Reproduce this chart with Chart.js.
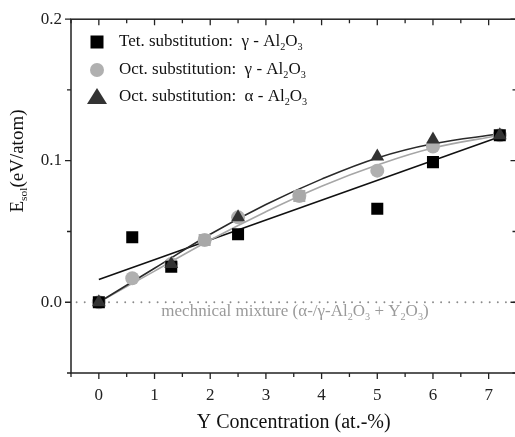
<!DOCTYPE html>
<html>
<head>
<meta charset="utf-8">
<script src="https://cdn.jsdelivr.net/npm/chart.js@4.4.0/dist/chart.umd.min.js"></script>
<style>
  html, body { margin: 0; padding: 0; background: #fff; overflow: hidden; }
  canvas { display: block; }
</style>
</head>
<body>
<canvas id="chart" width="525" height="437" style="width:525px;height:437px"></canvas>
<script>
// Y concentration (at.-%) and solution energy (eV/atom)
const xTet = [0, 0.6, 1.3, 1.9, 2.5, 3.6, 5, 6, 7.2];
const yTet = [0, 0.046, 0.025, 0.044, 0.048, 0.075, 0.066, 0.099, 0.118];
const xOctGamma = [0, 0.6, 1.3, 1.9, 2.5, 3.6, 5, 6, 7.2];
const yOctGamma = [0, 0.017, 0.027, 0.044, 0.060, 0.075, 0.093, 0.110, 0.118];
const xOctAlpha = [0, 1.3, 2.5, 5, 6, 7.2];
const yOctAlpha = [0, 0.027, 0.060, 0.103, 0.115, 0.118];

// fitted curves
const xFitTet = [0, 7.2];
const yFitTet = [0.016, 0.117];
const xFit = [0, 1, 2, 3, 4, 5, 6, 7.2];
const yFitGamma = [0, 0.022, 0.044, 0.064, 0.082, 0.097, 0.109, 0.118];
const yFitAlpha = [0, 0.024, 0.048, 0.069, 0.087, 0.102, 0.112, 0.119];

const xTicks = [0, 1, 2, 3, 4, 5, 6, 7];
const yTicks = [0, 0.1, 0.2];
const xRange = [-0.5, 7.5];
const yRange = [-0.05, 0.2];

const SERIF = "'Liberation Serif', 'Times New Roman', serif";

function pts(xs, ys) {
  return xs.map((x, i) => ({ x: x, y: ys[i] }));
}

// text with subscripts: parts = [[text, isSub], ...]
function richWidth(ctx, parts, size) {
  let w = 0;
  parts.forEach(p => {
    ctx.font = (p[1] ? size * 0.6 : size) + "px " + SERIF;
    w += ctx.measureText(p[0]).width;
  });
  return w;
}
function drawRich(ctx, parts, x, y, size, align) {
  let w = richWidth(ctx, parts, size);
  let cx = align === "center" ? x - w / 2 : x;
  ctx.textBaseline = "middle";
  ctx.textAlign = "left";
  parts.forEach(p => {
    ctx.font = (p[1] ? size * 0.6 : size) + "px " + SERIF;
    ctx.fillText(p[0], cx, p[1] ? y + size * 0.3 : y);
    cx += ctx.measureText(p[0]).width;
  });
}

const tetColors = xTet.map(x => (x === 1.9 || x === 3.6) ? "#a8a8a8" : "#000");

const decorPlugin = {
  id: "decor",
  afterDraw(chart) {
    const ctx = chart.ctx;
    const a = chart.chartArea;
    const xs = chart.scales.x, ys = chart.scales.y;
    ctx.save();
    // frame
    ctx.strokeStyle = "#222";
    ctx.lineWidth = 1.5;
    ctx.strokeRect(a.left, a.top, a.right - a.left, a.bottom - a.top);
    // x ticks: outward at bottom, inward at top
    ctx.lineWidth = 1.3;
    for (let v = -0.5; v <= 7.5; v += 0.5) {
      const px = xs.getPixelForValue(v);
      const major = Number.isInteger(v);
      const len = major ? 6 : 4;
      ctx.beginPath();
      ctx.moveTo(px, a.bottom); ctx.lineTo(px, a.bottom + len);
      ctx.moveTo(px, a.top); ctx.lineTo(px, a.top + len);
      ctx.stroke();
    }
    // y ticks: outward at left, inward at right
    for (let v = -0.05; v <= 0.2001; v += 0.05) {
      const py = ys.getPixelForValue(v);
      const major = Math.abs(Math.round(v * 10) - v * 10) < 1e-6;
      const len = major ? 6 : 4;
      ctx.beginPath();
      ctx.moveTo(a.left, py); ctx.lineTo(a.left - len, py);
      ctx.moveTo(a.right, py); ctx.lineTo(a.right - len, py);
      ctx.stroke();
    }

    // legend
    const lx = 97, ly = [42, 70, 97];
    ctx.fillStyle = "#000";
    ctx.fillRect(lx - 6.5, ly[0] - 6.5, 13, 13);
    ctx.fillStyle = "#b0b0b0";
    ctx.beginPath(); ctx.arc(lx, ly[1], 7, 0, Math.PI * 2); ctx.fill();
    ctx.fillStyle = "#333";
    ctx.beginPath();
    ctx.moveTo(lx, ly[2] - 9); ctx.lineTo(lx + 10, ly[2] + 7); ctx.lineTo(lx - 10, ly[2] + 7);
    ctx.closePath(); ctx.fill();
    ctx.fillStyle = "#111";
    const al = [["Al", false], ["2", true], ["O", false], ["3", true]];
    drawRich(ctx, [["Tet. substitution:  \u03b3 - ", false]].concat(al), 119, ly[0], 17, "left");
    drawRich(ctx, [["Oct. substitution:  \u03b3 - ", false]].concat(al), 119, ly[1], 17, "left");
    drawRich(ctx, [["Oct. substitution:  \u03b1 - ", false]].concat(al), 119, ly[2], 17, "left");

    // mechanical mixture label
    ctx.fillStyle = "#9a9a9a";
    drawRich(ctx, [["mechnical mixture (\u03b1-/\u03b3-Al", false], ["2", true], ["O", false], ["3", true],
      [" + Y", false], ["2", true], ["O", false], ["3", true], [")", false]], 295, 312, 17, "center");

    // axis titles
    ctx.fillStyle = "#111";
    drawRich(ctx, [["Y Concentration (at.-%)", false]], (a.left + a.right) / 2, 423, 20, "center");
    ctx.translate(18, 161);
    ctx.rotate(-Math.PI / 2);
    drawRich(ctx, [["E", false], ["sol", true], ["(eV/atom)", false]], 0, 0, 19, "center");
    ctx.restore();
  }
};

new Chart(document.getElementById("chart"), {
  type: "scatter",
  data: {
    datasets: [
      {
        label: "Oct. substitution: alpha-Al2O3",
        data: pts(xOctAlpha, yOctAlpha),
        pointStyle: "triangle",
        pointRadius: 8,
        backgroundColor: "#333",
        borderColor: "#333",
        borderWidth: 0
      },
      {
        label: "Tet. substitution: gamma-Al2O3",
        data: pts(xTet, yTet),
        pointStyle: "rect",
        pointRadius: 8.5,
        backgroundColor: tetColors,
        borderColor: tetColors,
        borderWidth: 0
      },
      {
        label: "Oct. substitution: gamma-Al2O3",
        data: pts(xOctGamma, yOctGamma),
        pointStyle: "circle",
        pointRadius: 7,
        backgroundColor: "#b0b0b0",
        borderColor: "#b0b0b0",
        borderWidth: 0
      },
      {
        type: "line",
        label: "fit alpha",
        data: pts(xFit, yFitAlpha),
        borderColor: "#2a2a2a",
        borderWidth: 1.6,
        pointRadius: 0,
        tension: 0.4,
        fill: false
      },
      {
        type: "line",
        label: "fit gamma",
        data: pts(xFit, yFitGamma),
        borderColor: "#a6a6a6",
        borderWidth: 1.6,
        pointRadius: 0,
        tension: 0.4,
        fill: false
      },
      {
        type: "line",
        label: "fit tet",
        data: pts(xFitTet, yFitTet),
        borderColor: "#111",
        borderWidth: 1.6,
        pointRadius: 0,
        fill: false
      },
      {
        type: "line",
        label: "mixture",
        data: pts([-0.4, 7.5], [0, 0]),
        borderColor: "#8a8a8a",
        borderWidth: 1.8,
        borderDash: [0.1, 8],
        borderCapStyle: "round",
        pointRadius: 0,
        fill: false
      }
    ]
  },
  options: {
    responsive: false,
    animation: false,
    devicePixelRatio: 1,
    layout: { padding: { top: 15, right: 5, left: 0, bottom: 0 } },
    plugins: {
      legend: { display: false },
      tooltip: { enabled: false }
    },
    scales: {
      x: {
        type: "linear",
        min: xRange[0],
        max: xRange[1],
        afterFit: s => { s.height = 64; },
        afterBuildTicks: s => { s.ticks = xTicks.map(v => ({ value: v })); },
        grid: { display: false, drawTicks: false },
        border: { display: false },
        ticks: {
          padding: 12,
          color: "#222",
          font: { family: SERIF, size: 17 },
          callback: v => String(v)
        }
      },
      y: {
        type: "linear",
        min: yRange[0],
        max: yRange[1],
        afterFit: s => { s.width = 71; },
        afterBuildTicks: s => { s.ticks = yTicks.map(v => ({ value: v })); },
        grid: { display: false, drawTicks: false },
        border: { display: false },
        ticks: {
          padding: 9,
          color: "#222",
          font: { family: SERIF, size: 17 },
          callback: v => v.toFixed(1)
        }
      }
    }
  },
  plugins: [decorPlugin]
});
</script>
</body>
</html>
